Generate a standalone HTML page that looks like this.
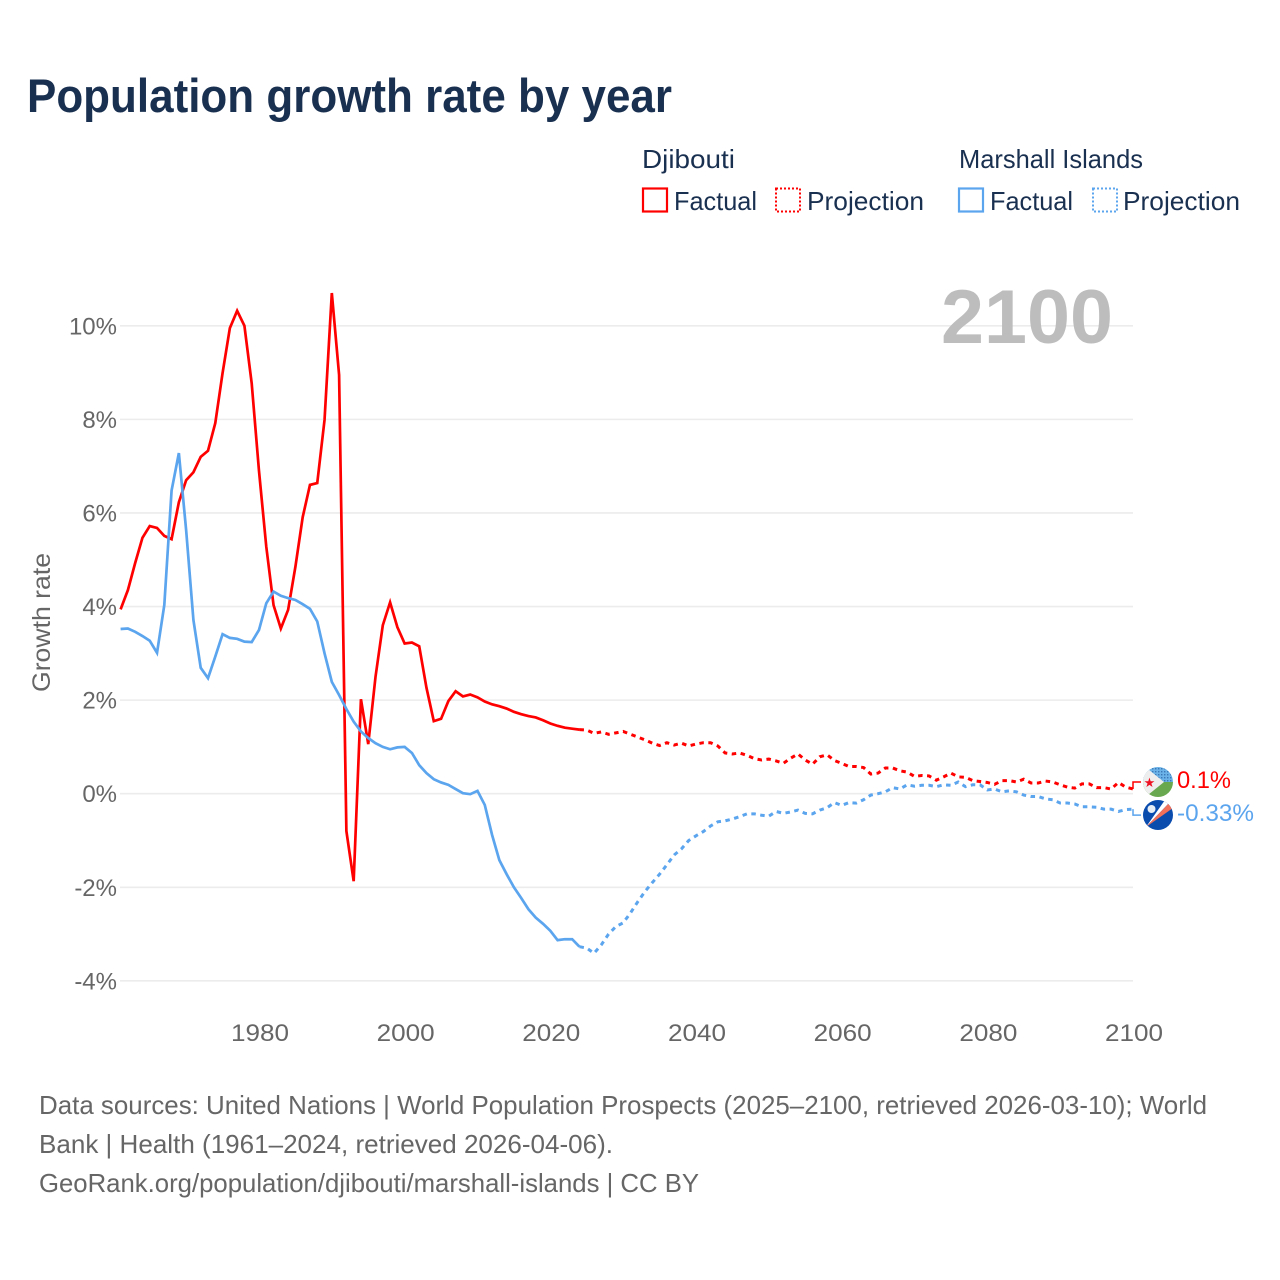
<!DOCTYPE html>
<html lang="en">
<head>
<meta charset="utf-8">
<title>Population growth rate by year</title>
<style>
html,body{margin:0;padding:0;background:#fff;}
svg{display:block;font-family:"Liberation Sans",sans-serif;}
</style>
</head>
<body>
<svg id="chart" width="1280" height="1280" viewBox="0 0 1280 1280" xmlns="http://www.w3.org/2000/svg">
  <defs>
    <clipPath id="flag-clip-a"><circle cx="1158" cy="782" r="15"/></clipPath>
    <clipPath id="flag-clip-b"><circle cx="1158" cy="815" r="15"/></clipPath>
    <pattern id="dots" width="3" height="3" patternUnits="userSpaceOnUse"><rect width="3" height="3" fill="#6ab2e7"/><rect width="1.4" height="1.4" fill="#3a78b8"/></pattern>
  </defs>
  <rect width="1280" height="1280" fill="#fff"/>
  <text x="27" y="112" font-size="47" font-weight="700" fill="#1a3050" textLength="645" lengthAdjust="spacingAndGlyphs">Population growth rate by year</text>

  <g font-size="26" fill="#1a3050">
    <text x="642" y="168" textLength="93" lengthAdjust="spacingAndGlyphs">Djibouti</text>
    <text x="959" y="168" textLength="184" lengthAdjust="spacingAndGlyphs">Marshall Islands</text>
    <rect x="643" y="188.500" width="24" height="23" fill="none" stroke="#ff0000" stroke-width="2.200"/>
    <text x="674" y="210" textLength="83" lengthAdjust="spacingAndGlyphs">Factual</text>
    <rect x="776" y="188.500" width="24" height="23" fill="none" stroke="#ff0000" stroke-width="2" stroke-dasharray="2 2"/>
    <text x="807" y="210" textLength="117" lengthAdjust="spacingAndGlyphs">Projection</text>
    <rect x="959" y="188.500" width="24" height="23" fill="none" stroke="#5ba4ee" stroke-width="2.200"/>
    <text x="990" y="210" textLength="83" lengthAdjust="spacingAndGlyphs">Factual</text>
    <rect x="1093" y="188.500" width="24" height="23" fill="none" stroke="#5ba4ee" stroke-width="2" stroke-dasharray="2 2"/>
    <text x="1123" y="210" textLength="117" lengthAdjust="spacingAndGlyphs">Projection</text>
  </g>

  <g id="grid"></g>
  <text x="941" y="343" font-size="76" font-weight="700" fill="#bdbdbd" textLength="172" lengthAdjust="spacingAndGlyphs">2100</text>
  <g id="y-axis" font-size="24" fill="#666"></g>
  <g id="x-axis" font-size="24" fill="#666"></g>
  <text transform="translate(50 692) rotate(-90)" font-size="25" fill="#666" textLength="139" lengthAdjust="spacingAndGlyphs">Growth rate</text>
  <g id="series" fill="none"></g>

  <g clip-path="url(#flag-clip-a)">
    <rect x="1143" y="767" width="30" height="15" fill="url(#dots)"/>
    <rect x="1143" y="782" width="30" height="15" fill="#6aa84f"/>
    <path d="M1143 765 L1164 782 L1143 799 Z" fill="#eeeeee"/>
    <text x="1149.500" y="787" font-size="13" fill="#ee1122" text-anchor="middle">★</text>
  </g>
  <g clip-path="url(#flag-clip-b)">
    <rect x="1143" y="800" width="30" height="30" fill="#0a4cae"/>
    <path d="M1146 827 L1165 800 L1170 802 Z" fill="#ffffff"/>
    <path d="M1146 827 L1170 802 L1173 808 Z" fill="#f0705a"/>
    <circle cx="1151.500" cy="809" r="4" fill="#e8eef5"/>
  </g>
  <text id="label-djibouti" x="1177" y="788" font-size="24" fill="#ff0000" textLength="54" lengthAdjust="spacingAndGlyphs"></text>
  <text id="label-marshall" x="1177" y="821" font-size="24" fill="#5ba4ee" textLength="77" lengthAdjust="spacingAndGlyphs"></text>

  <g font-size="26" fill="#666">
    <text x="39" y="1114" textLength="1168" lengthAdjust="spacingAndGlyphs">Data sources: United Nations | World Population Prospects (2025–2100, retrieved 2026-03-10); World</text>
    <text x="39" y="1153" textLength="574" lengthAdjust="spacingAndGlyphs">Bank | Health (1961–2024, retrieved 2026-04-06).</text>
    <text x="39" y="1192" textLength="660" lengthAdjust="spacingAndGlyphs">GeoRank.org/population/djibouti/marshall-islands | CC BY</text>
  </g>
</svg>
<script>
const years = [
1961,1962,1963,1964,1965,1966,1967,1968,1969,1970,
1971,1972,1973,1974,1975,1976,1977,1978,1979,1980,
1981,1982,1983,1984,1985,1986,1987,1988,1989,1990,
1991,1992,1993,1994,1995,1996,1997,1998,1999,2000,
2001,2002,2003,2004,2005,2006,2007,2008,2009,2010,
2011,2012,2013,2014,2015,2016,2017,2018,2019,2020,
2021,2022,2023,2024,2025,2026,2027,2028,2029,2030,
2031,2032,2033,2034,2035,2036,2037,2038,2039,2040,
2041,2042,2043,2044,2045,2046,2047,2048,2049,2050,
2051,2052,2053,2054,2055,2056,2057,2058,2059,2060,
2061,2062,2063,2064,2065,2066,2067,2068,2069,2070,
2071,2072,2073,2074,2075,2076,2077,2078,2079,2080,
2081,2082,2083,2084,2085,2086,2087,2088,2089,2090,
2091,2092,2093,2094,2095,2096,2097,2098,2099,2100];
const djibouti = [
3.94,4.35,4.93,5.47,5.72,5.68,5.51,5.44,6.23,6.7,
6.87,7.2,7.33,7.92,8.99,9.95,10.32,10.0,8.77,6.9,
5.28,4.03,3.53,3.93,4.85,5.91,6.6,6.64,7.99,10.7,
8.95,-0.8,-1.87,2.02,1.06,2.5,3.6,4.09,3.56,3.21,
3.23,3.15,2.26,1.55,1.6,1.98,2.19,2.08,2.12,2.06,
1.97,1.91,1.87,1.82,1.75,1.70,1.66,1.63,1.57,1.5,
1.45,1.41,1.39,1.37,1.36,1.29,1.32,1.27,1.3,1.33,
1.27,1.21,1.15,1.08,1.03,1.09,1.04,1.08,1.02,1.06,
1.09,1.09,1.02,.87,.85,.87,.82,.75,.72,.74,
.70,.65,.76,.85,.72,.63,.79,.83,.71,.65,
.58,.58,.56,.42,.44,.55,.55,.49,.46,.37,
.39,.38,.29,.36,.44,.36,.35,.28,.26,.24,
.2,.28,.28,.25,.31,.23,.23,.27,.25,.19,
.14,.12,.21,.21,.13,.13,.1,.24,.14,.1];
const marshallIslands = [
3.52,3.53,3.46,3.37,3.27,3.01,4.03,6.48,7.28,5.63,
3.71,2.69,2.47,2.93,3.41,3.33,3.31,3.25,3.24,3.5,
4.07,4.32,4.23,4.18,4.14,4.05,3.95,3.68,3.0,2.39,
2.11,1.81,1.54,1.33,1.19,1.08,1.0,.95,.99,1.0,
.87,.61,.44,.31,.24,.19,.1,.01,-.01,.06,
-.24,-.88,-1.42,-1.72,-2.0,-2.23,-2.47,-2.65,-2.78,-2.93,
-3.13,-3.11,-3.11,-3.27,-3.3,-3.41,-3.23,-3.0,-2.84,-2.76,
-2.55,-2.31,-2.09,-1.9,-1.72,-1.52,-1.31,-1.18,-1.0,-.9,
-.81,-.69,-.6,-.58,-.54,-.49,-.43,-.43,-.46,-.48,
-.38,-.42,-.39,-.35,-.42,-.43,-.35,-.3,-.19,-.25,
-.19,-.2,-.13,-.03,0,.04,.13,.1,.19,.16,
.18,.18,.15,.19,.18,.25,.15,.19,.19,.08,
.1,.04,.06,.04,-.03,-.06,-.06,-.11,-.13,-.2,
-.2,-.22,-.28,-.28,-.29,-.33,-.33,-.38,-.34,-.33];
const lastFactualYear = 2024;
const yTicks = [-4,-2,0,2,4,6,8,10];
const yTickLabels = ["-4%","-2%","0%","2%","4%","6%","8%","10%"];
const xTicks = [1980,2000,2020,2040,2060,2080,2100];
const xTickLabels = ["1980","2000","2020","2040","2060","2080","2100"];
const endLabels = ["0.1%","-0.33%"];

const NS = "http://www.w3.org/2000/svg";
const RED = "#ff0000", BLUE = "#5ba4ee";
function xScale(year){ return 120.6 + (year - 1961) * (1133 - 120.6) / (2100 - 1961); }
function yScale(v){ return 793.7 - v * 46.79; }
function make(tag, attrs, parent){
  const el = document.createElementNS(NS, tag);
  for (const k in attrs) el.setAttribute(k, attrs[k]);
  parent.appendChild(el);
  return el;
}
const gridG = document.getElementById("grid");
const yG = document.getElementById("y-axis");
const xG = document.getElementById("x-axis");
const seriesG = document.getElementById("series");

yTicks.forEach(function(t, i){
  const line = make("line", {x1:120, x2:1133, y1:yScale(t), y2:yScale(t), stroke:"#ececec", "stroke-width":1.6}, gridG);
  
  
  const label = make("text", {x:117, y:yScale(t) + 8.500, "text-anchor":"end"}, yG);
  label.textContent = yTickLabels[i];
  
  
});
xTicks.forEach(function(t, i){
  const label = make("text", {x:xScale(t) + 1, y:1041, "text-anchor":"middle", textLength:58, lengthAdjust:"spacingAndGlyphs"}, xG);
  label.textContent = xTickLabels[i];
  
  
});
function pathFor(values, keep){
  let d = "";
  years.forEach(function(yr, i){
    if (!keep(yr)) return;
    d += (d ? "L" : "M") + xScale(yr).toFixed(2) + " " + yScale(values[i]).toFixed(2);
  });
  return d;
}
function drawSeries(values, color, offset){
  const solid = make("path", {d:pathFor(values, function(y){return y <= lastFactualYear;}), stroke:color, "stroke-width":2.700, "stroke-linejoin":"miter"}, seriesG);
  
  
  const dashed = make("path", {d:pathFor(values, function(y){return y >= lastFactualYear;}), stroke:color, "stroke-width":3, "stroke-dasharray":"4.500 4.500"}, seriesG);
  
  
  const lastX = xScale(years[years.length - 1]);
  const lastY = yScale(values[values.length - 1]);
  const conn = make("path", {d:"M" + lastX + " " + lastY + "V" + (lastY + offset) + "H" + (lastX + 8), stroke:color, "stroke-width":1.500}, seriesG);
  
  
}
drawSeries(djibouti, RED, -7);
drawSeries(marshallIslands, BLUE, 6);
document.getElementById("label-djibouti").textContent = endLabels[0];
document.getElementById("label-marshall").textContent = endLabels[1];
</script>
</body>
</html>
